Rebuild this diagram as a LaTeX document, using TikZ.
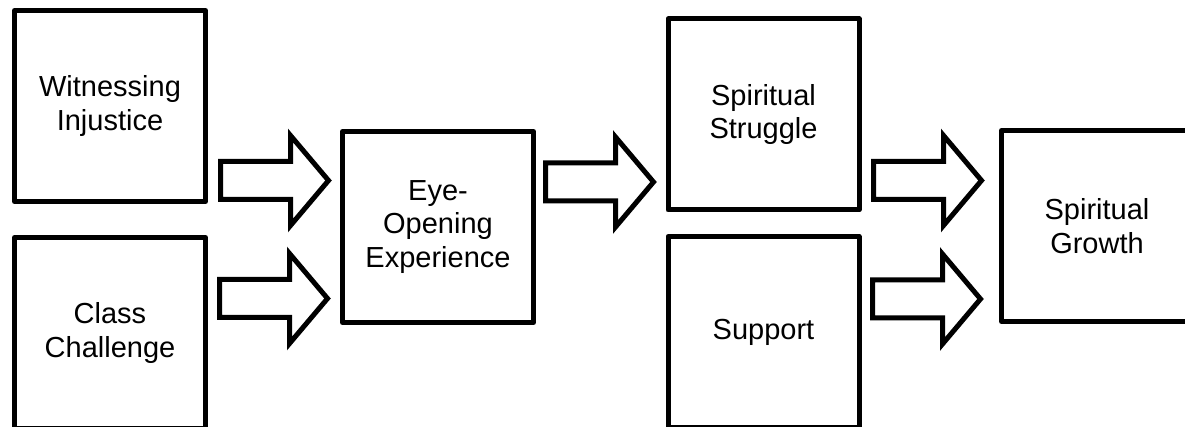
\documentclass[tikz,border=0pt]{standalone}
\usepackage{fontspec}
\setmainfont{Liberation Sans}
\begin{document}
\begin{tikzpicture}[x=0.75pt,y=-0.75pt,
  box/.style={draw, line width=3.75pt, line join=round, minimum width=143.25pt, minimum height=143.25pt,
    inner sep=0pt, align=center, font=\fontsize{21.75}{25}\selectfont},
  blk/.style={draw, line width=3.75pt, line join=miter, fill=white}]
\useasboundingbox (0,0) rectangle (1185,427);
\clip (0,0) rectangle (1185,427);
\node[box] (w) at (110,106) {Witnessing\\Injustice};
\node[box] (c) at (110,333) {Class\\Challenge};
\node[box] (e) at (438,227) {Eye-\\Opening\\Experience};
\node[box] (s) at (763.5,114.5) {Spiritual\\Struggle};
\node[box] (p) at (763.5,332) {Support};
\node[box] (g) at (1097,226) {Spiritual\\Growth};
\coordinate (a1) at (220.5,180.5);
\coordinate (a2) at (219.5,298.5);
\coordinate (a3) at (545.5,182);
\coordinate (a4) at (873.5,180.5);
\coordinate (a5) at (872.5,299);
\draw[blk] (a1) ++(0,-19) -- ++(70,0) -- ++(0,-26) -- ++(38,45) -- ++(-38,45) -- ++(0,-26) -- ++(-70,0) -- cycle;
\draw[blk] (a2) ++(0,-19) -- ++(70,0) -- ++(0,-26) -- ++(38,45) -- ++(-38,45) -- ++(0,-26) -- ++(-70,0) -- cycle;
\draw[blk] (a3) ++(0,-19) -- ++(70,0) -- ++(0,-26) -- ++(38,45) -- ++(-38,45) -- ++(0,-26) -- ++(-70,0) -- cycle;
\draw[blk] (a4) ++(0,-19) -- ++(70,0) -- ++(0,-26) -- ++(38,45) -- ++(-38,45) -- ++(0,-26) -- ++(-70,0) -- cycle;
\draw[blk] (a5) ++(0,-19) -- ++(70,0) -- ++(0,-26) -- ++(38,45) -- ++(-38,45) -- ++(0,-26) -- ++(-70,0) -- cycle;
\end{tikzpicture}
\end{document}
